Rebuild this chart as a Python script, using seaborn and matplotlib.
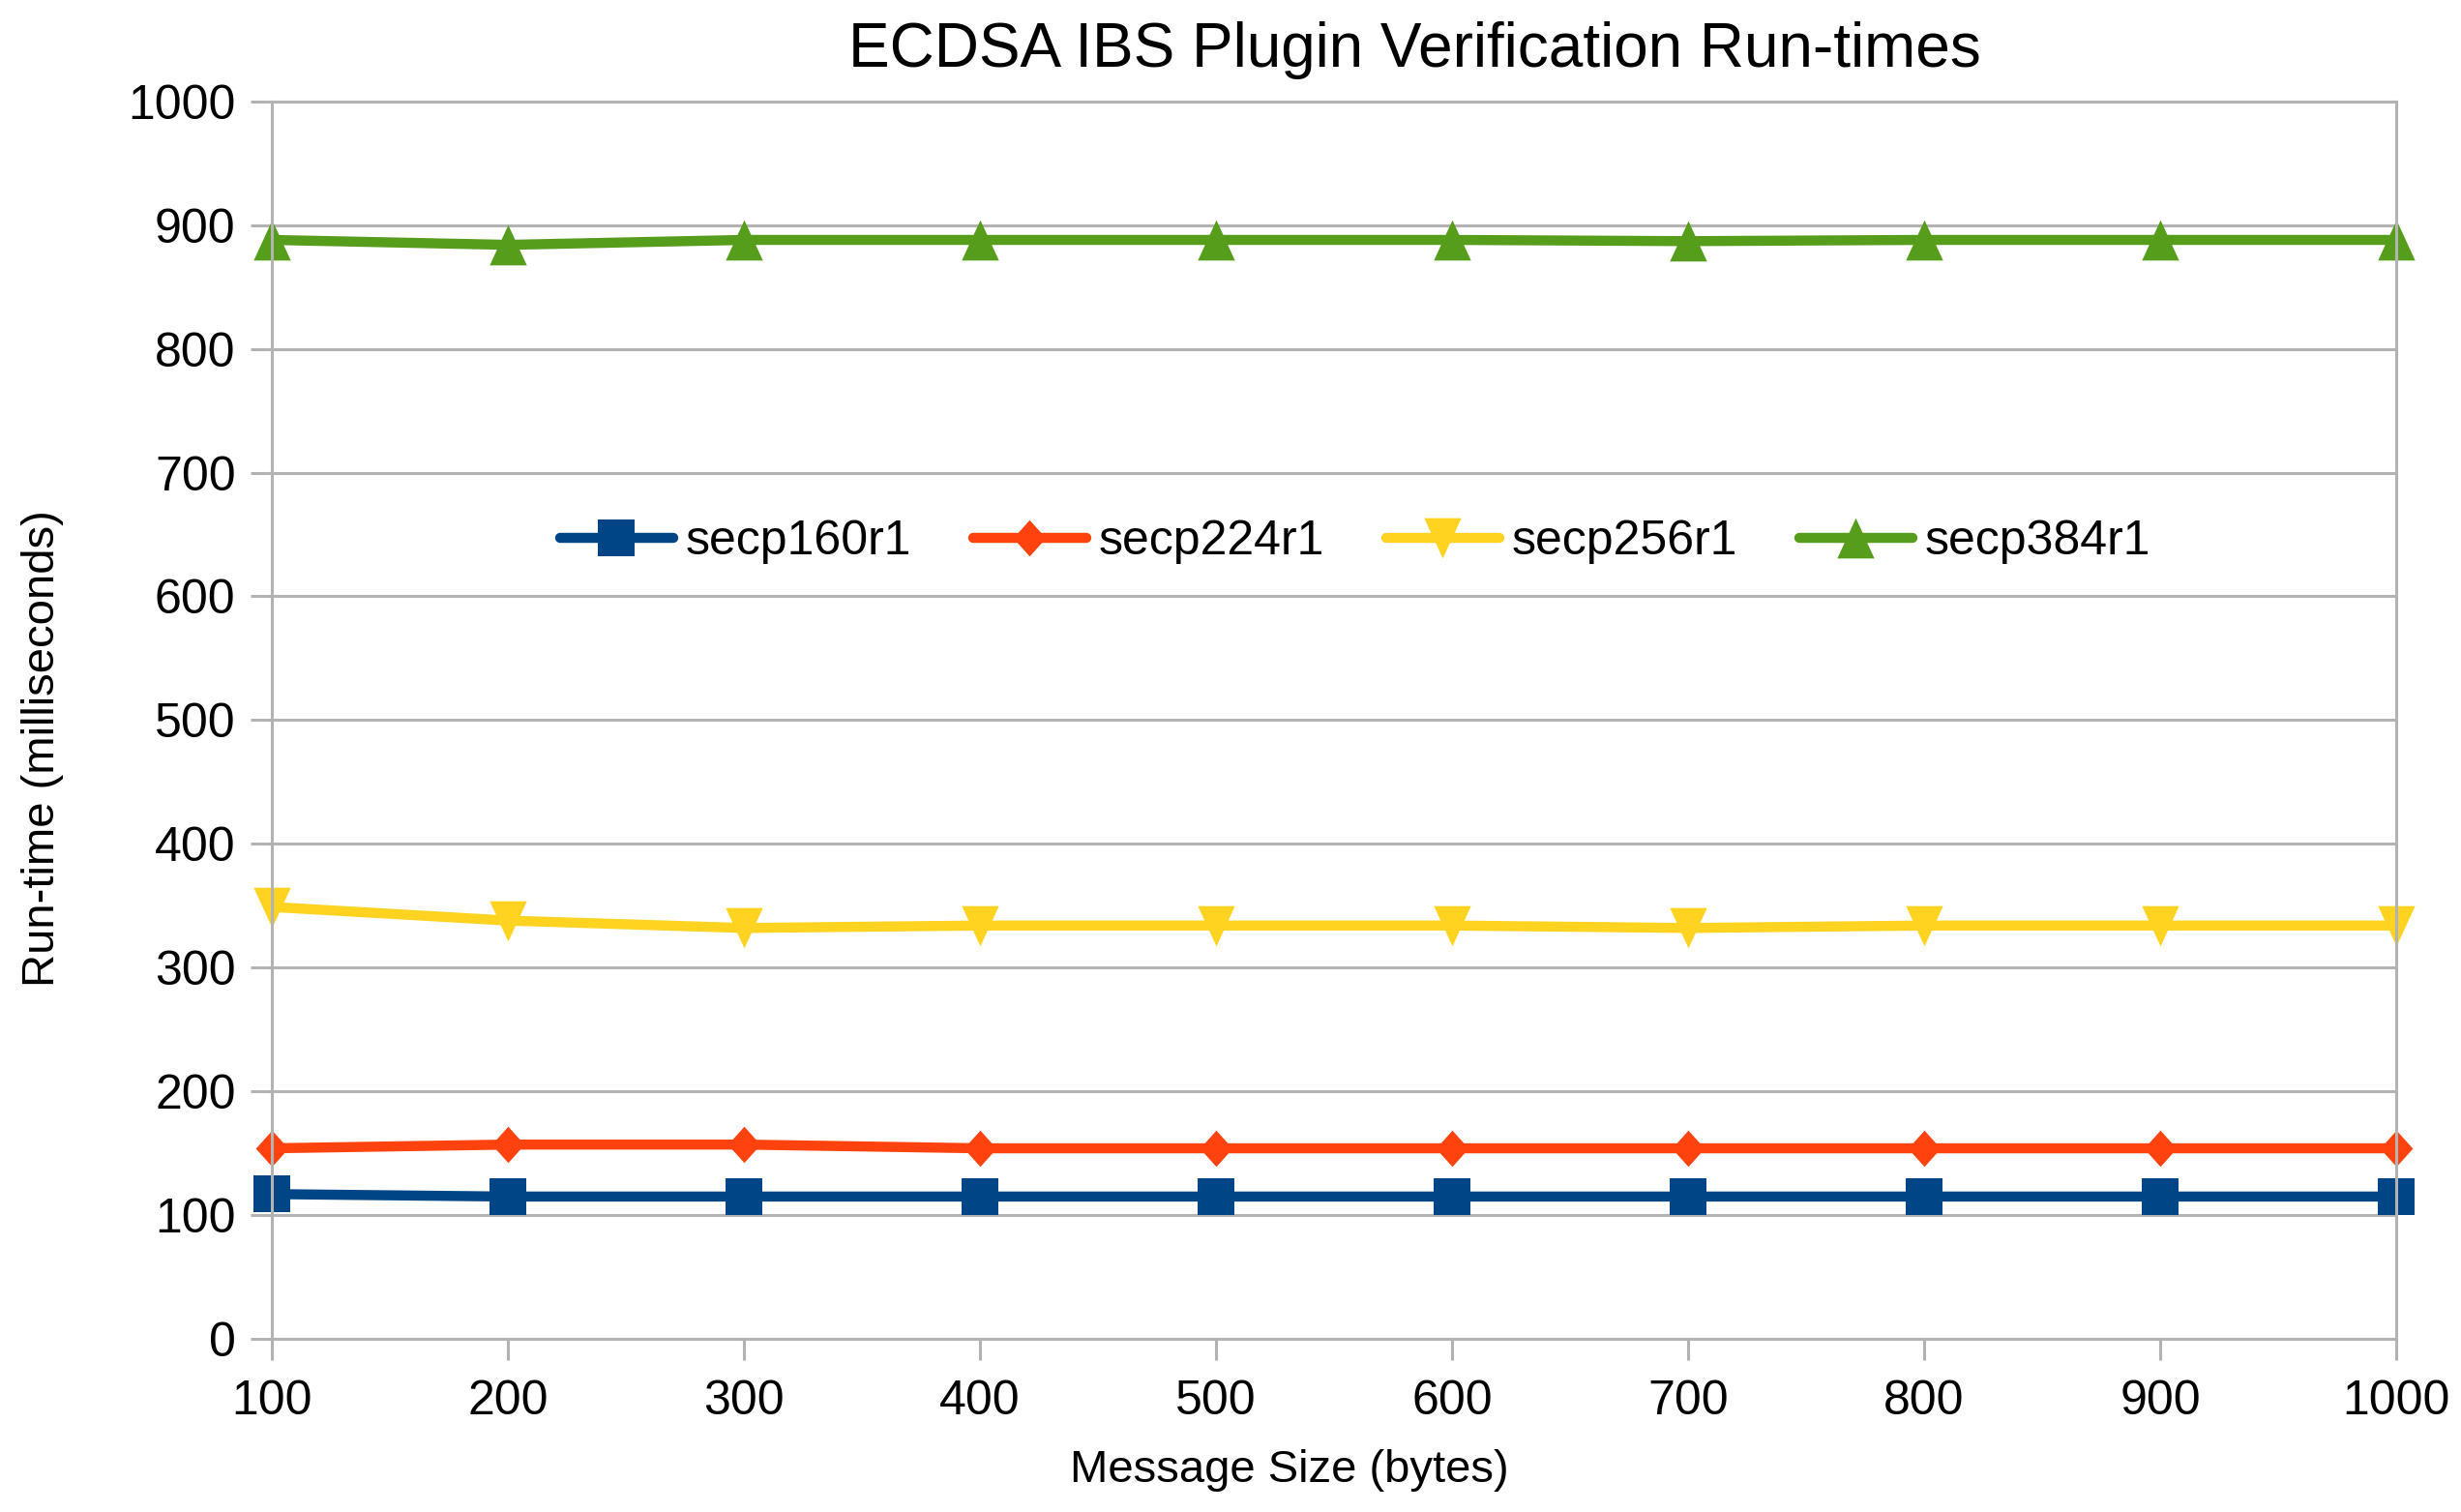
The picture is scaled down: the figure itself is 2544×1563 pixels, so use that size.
import matplotlib
matplotlib.use('Agg')
import matplotlib.pyplot as plt
import seaborn as sns
import pandas as pd

# values
message_sizes = [100, 200, 300, 400, 500, 600, 700, 800, 900, 1000]
secp160r1 = [117, 115, 115, 115, 115, 115, 115, 115, 115, 115]
secp224r1 = [154, 157, 157, 154, 154, 154, 154, 154, 154, 154]
secp256r1 = [349, 338, 332, 334, 334, 334, 332, 334, 334, 334]
secp384r1 = [888, 884, 888, 888, 888, 888, 887, 888, 888, 888]
curves = ['secp160r1', 'secp224r1', 'secp256r1', 'secp384r1']
y_ticks = [0, 100, 200, 300, 400, 500, 600, 700, 800, 900, 1000]

colors = {'secp160r1': '#004586', 'secp224r1': '#ff420e',
          'secp256r1': '#ffd320', 'secp384r1': '#579d1c'}
# LibreOffice-like marker shapes (slightly tall)
markers = {'secp160r1': 's',
           'secp224r1': [(0, 1), (0.9, 0), (0, -1), (-0.9, 0)],
           'secp256r1': [(-0.92, 1), (0.92, 1), (0, -1)],
           'secp384r1': [(-0.92, -1), (0.92, -1), (0, 1)]}
marker_sizes = {'secp160r1': 27, 'secp224r1': 27, 'secp256r1': 30, 'secp384r1': 30}

rows = []
for name, vals in zip(curves, [secp160r1, secp224r1, secp256r1, secp384r1]):
    for x, y in zip(message_sizes, vals):
        rows.append({'size': x, 'runtime': y, 'curve': name})
df = pd.DataFrame(rows)

sns.set_style("white")
plt.rcParams['font.family'] = ['Liberation Sans', 'DejaVu Sans']
plt.rcParams['text.color'] = 'black'
plt.rcParams['axes.labelcolor'] = 'black'
plt.rcParams['xtick.color'] = 'black'
plt.rcParams['ytick.color'] = 'black'

fig, ax = plt.subplots(figsize=(25.44, 15.63), dpi=100)
fig.subplots_adjust(left=0.1105, right=0.9737, top=0.933, bottom=0.1145)

for name in curves:
    sub = df[df['curve'] == name]
    sns.lineplot(data=sub, x='size', y='runtime', ax=ax, color=colors[name],
                 marker=markers[name], markersize=marker_sizes[name],
                 markeredgewidth=0, linewidth=7.5, label=name, clip_on=False)

ax.set_xlim(100, 1000)
ax.set_ylim(0, 1000)
ax.set_xticks(message_sizes)
ax.set_yticks(y_ticks)
ax.yaxis.grid(True, color='#b3b3b3', linewidth=2.2)
ax.set_axisbelow(True)
for s in ax.spines.values():
    s.set_color('#b3b3b3')
    s.set_linewidth(2.2)
ax.tick_params(axis='both', which='major', labelsize=36, length=16, width=2.2,
               color='#b3b3b3', labelcolor='black', direction='out',
               left=True, bottom=True)
ax.tick_params(axis='y', pad=11)
ax.tick_params(axis='x', pad=14)

ax.set_title('ECDSA IBS Plugin Verification Run-times', fontsize=46, pad=26, x=0.538)
ax.set_xlabel('Message Size (bytes)', fontsize=34)
ax.set_ylabel('Run-time (milliseconds)', fontsize=34)
ax.xaxis.label.set_va('center')
ax.xaxis.set_label_coords(0.479, -0.106)
ax.yaxis.label.set_va('center')
ax.yaxis.set_label_coords(-0.108, 0.477)

ax.legend(loc='center', bbox_to_anchor=(0.51, 0.644), ncol=4, frameon=False,
          fontsize=36, handlelength=2.34, columnspacing=1.27, handletextpad=0.26)

fig.savefig('out.png', dpi=100)
